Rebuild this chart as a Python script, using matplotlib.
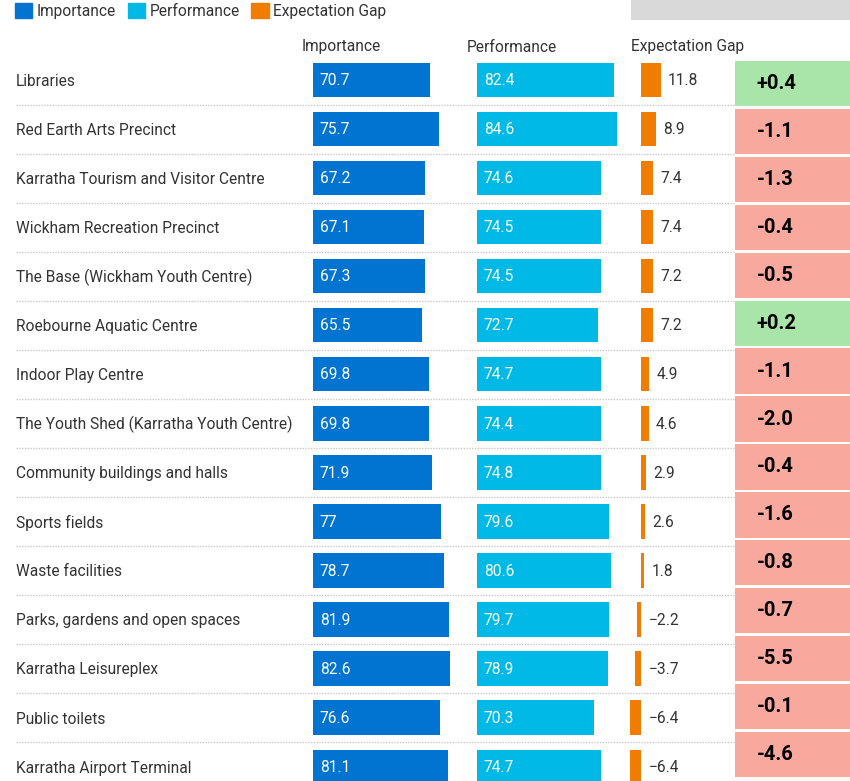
import numpy as np
import matplotlib
matplotlib.use("Agg")
import matplotlib.pyplot as plt
from matplotlib.patches import Patch, Rectangle
from matplotlib.transforms import blended_transform_factory

plt.rcParams['font.family'] = ['Roboto', 'DejaVu Sans']

# data
services = ["Libraries", "Red Earth Arts Precinct", "Karratha Tourism and Visitor Centre",
            "Wickham Recreation Precinct", "The Base (Wickham Youth Centre)",
            "Roebourne Aquatic Centre", "Indoor Play Centre",
            "The Youth Shed (Karratha Youth Centre)", "Community buildings and halls",
            "Sports fields", "Waste facilities", "Parks, gardens and open spaces",
            "Karratha Leisureplex", "Public toilets", "Karratha Airport Terminal"]
importance = [70.7, 75.7, 67.2, 67.1, 67.3, 65.5, 69.8, 69.8, 71.9, 77, 78.7, 81.9, 82.6, 76.6, 81.1]
performance = [82.4, 84.6, 74.6, 74.5, 74.5, 72.7, 74.7, 74.4, 74.8, 79.6, 80.6, 79.7, 78.9, 70.3, 74.7]
gap = [11.8, 8.9, 7.4, 7.4, 7.2, 7.2, 4.9, 4.6, 2.9, 2.6, 1.8, -2.2, -3.7, -6.4, -6.4]
change = [0.4, -1.1, -1.3, -0.4, -0.5, 0.2, -1.1, -2.0, -0.4, -1.6, -0.8, -0.7, -5.5, -0.1, -4.6]

c_imp = '#0074d0'
c_perf = '#00b9e6'
c_gap = '#f07d00'
c_txt = '#333333'

W, H = 850, 781
fig = plt.figure(figsize=(W / 100, H / 100), dpi=100)


def box(x0, x1, y0, y1):
    # pixel box -> figure fraction rect
    return [x0 / W, 1 - y1 / H, (x1 - x0) / W, (y1 - y0) / H]


rows = np.arange(len(services))
pitch = 49.05
top = 80 - pitch / 2
ylim = (-0.5 + (H - top) / pitch, -0.5)
scale = 1.66  # px per unit
fs = 11.2

ax_imp = fig.add_axes(box(313, 313 + 95 * scale, top, H))
ax_perf = fig.add_axes(box(477, 477 + 95 * scale, top, H))
ax_gap = fig.add_axes(box(641 - 12 * scale, 641 + 56 * scale, top, H))
for ax in (ax_imp, ax_perf, ax_gap):
    ax.set_ylim(*ylim)
    ax.axis('off')
ax_imp.set_xlim(0, 95)
ax_perf.set_xlim(0, 95)
ax_gap.set_xlim(-12, 56)

ax_imp.barh(rows, importance, height=0.7, color=c_imp)
ax_perf.barh(rows, performance, height=0.7, color=c_perf)
ax_gap.barh(rows, gap, height=0.7, color=c_gap)

lab_trans = blended_transform_factory(fig.transFigure, ax_imp.transData)
for i in rows:
    ax_imp.annotate(f"{importance[i]:g}", (0, i), xytext=(4.8, -0.5), textcoords='offset points',
                    va='center', ha='left', color='white', fontsize=fs)
    ax_perf.annotate(f"{performance[i]:g}", (0, i), xytext=(4.8, -0.5), textcoords='offset points',
                     va='center', ha='left', color='white', fontsize=fs)
    ax_gap.annotate(f"{gap[i]:g}".replace('-', '\u2212'), (max(gap[i], 0), i), xytext=(5.3, -0.5),
                    textcoords='offset points', va='center', ha='left', color=c_txt, fontsize=fs)
    ax_imp.annotate(services[i], (16 / W, i), xycoords=lab_trans, xytext=(0, -1),
                    textcoords='offset points', va='center', ha='left', color=c_txt, fontsize=fs)

# dotted row separators
ax_imp.hlines(rows[:-1] + 0.5, 16 / W, 735 / W, transform=lab_trans, colors='#c8c8c8',
              linestyles=(0, (1, 1)), linewidth=1, clip_on=False)

# change column
ax_chg = fig.add_axes(box(735, 850, 61, 61 + 15 * 47.9))
ax_chg.set_xlim(0, 1)
ax_chg.set_ylim(14.5, -0.5)
ax_chg.axis('off')
colors = ['#a9e5a9' if v > 0 else '#f9a89e' for v in change]
ax_chg.barh(rows - 0.5, 1, height=0.948, align='edge', color=colors)
for i in rows:
    ax_chg.text(0.19, i - 0.026, f"{change[i]:+.1f}", va='center', ha='left',
                fontsize=14.5, fontweight='bold', color='black')

# column headers
for x, name in [(302, "Importance"), (467, "Performance"), (631, "Expectation Gap")]:
    fig.text(x / W, 1 - 47 / H, name, va='center', ha='left', color=c_txt, fontsize=fs)

# grey strip top right
fig.patches.append(Rectangle((631 / W, 1 - 20 / H), 219 / W, 20 / H, transform=fig.transFigure,
                             facecolor='#d9d9d9', edgecolor='none'))

# legend
handles = [Patch(color=c_imp, label='Importance'), Patch(color=c_perf, label='Performance'),
           Patch(color=c_gap, label='Expectation Gap')]
fig.legend(handles=handles, loc='upper left', bbox_to_anchor=(15 / W, 1 - 3 / H), ncol=3,
           frameon=False, fontsize=fs, handlelength=1.1, handleheight=1.1,
           handletextpad=0.3, columnspacing=0.75, borderpad=0, borderaxespad=0,
           labelcolor=c_txt)

fig.savefig('out.png', dpi=100)
